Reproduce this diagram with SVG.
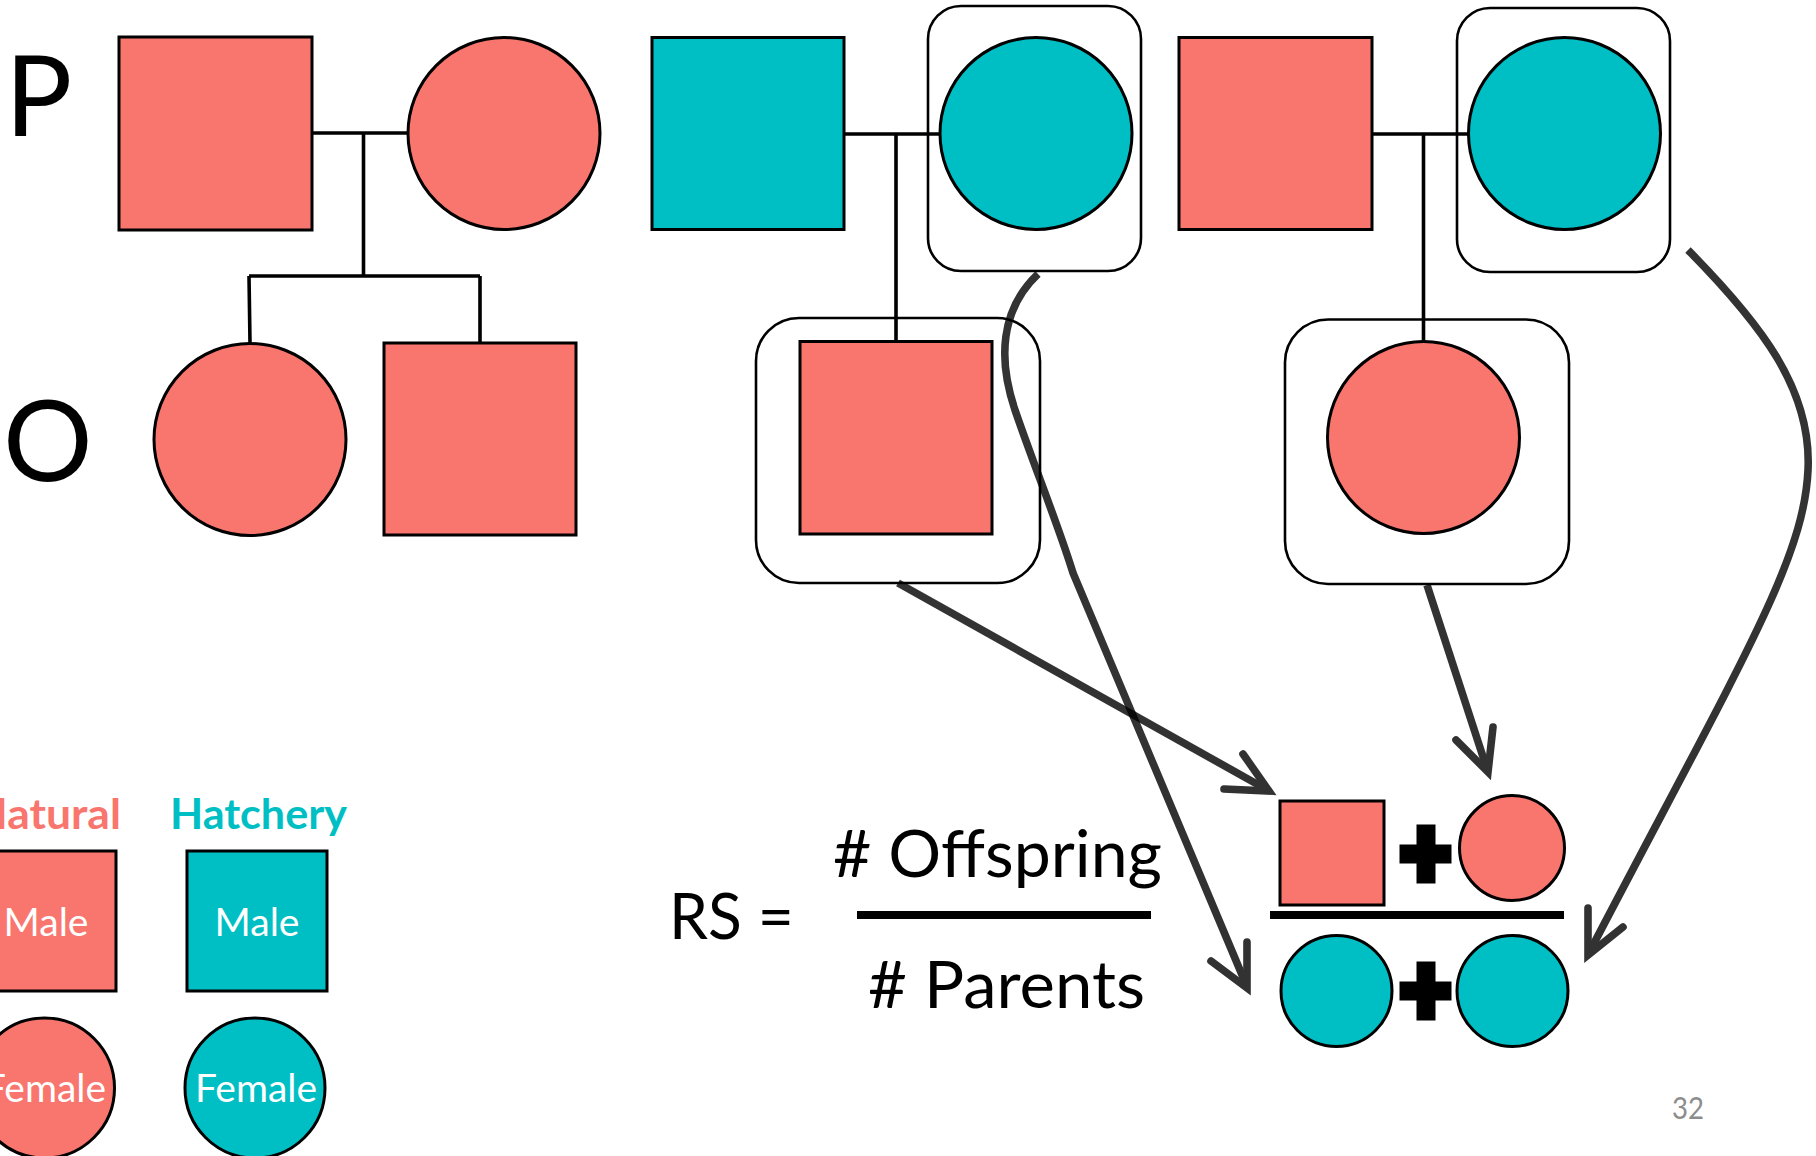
<svg xmlns="http://www.w3.org/2000/svg" width="1816" height="1156" viewBox="0 0 1816 1156">
<style>
.nat{fill:#F8766D;stroke:#000;stroke-width:3}
.hat{fill:#00BFC4;stroke:#000;stroke-width:3}
.box{fill:none;stroke:#000;stroke-width:2.6}
.ped{fill:none;stroke:#000;stroke-width:3.6}
.arr{fill:none;stroke:#000;stroke-width:7.6;stroke-linecap:butt}
.head{fill:none;stroke:#000;stroke-width:7.6;stroke-linecap:round;stroke-linejoin:miter;stroke-miterlimit:10}
.t{font-family:Lato,'Open Sans','Liberation Sans',sans-serif;fill:#000}
.lbl{font-family:Lato,'Open Sans','Liberation Sans',sans-serif;fill:#fff;font-size:38px;text-anchor:middle}
.plus{fill:#000}
</style>
<rect width="1816" height="1156" fill="#fff"/>

<g id="generation-labels">
<text class="t" x="5" y="136" font-size="112">P</text>
<text class="t" x="3" y="481" font-size="112">O</text>
</g>

<g id="connectors">
<path class="ped" d="M312,133 H407 M363.5,133 V276 M249,276 H480 M249,276 L250,343 M480,276 V343"/>
<path class="ped" d="M844,134 H940 M896,134 V341"/>
<path class="ped" d="M1372,134 H1468 M1423.5,134 V342"/>
<g id="arrow-offspring-male" opacity="0.8">
<path class="arr" d="M898,583 L1264,788"/>
<polyline class="head" points="1243,754 1269,791 1224,789"/>
</g>
<g id="arrow-hatchery-female-1" opacity="0.8">
<path class="arr" d="M1038,274 C1000,310 998,360 1015,410 C1032,460 1060,530 1073,573 L1245,982"/>
<polyline class="head" points="1247,942 1247,988 1211,961"/>
</g>
<g id="arrow-offspring-female" opacity="0.8">
<path class="arr" d="M1427,585 L1486,766"/>
<polyline class="head" points="1493,727 1488,772 1456,740"/>
</g>
<g id="arrow-hatchery-female-2" opacity="0.8">
<path class="arr" d="M1688,250 C1762,325 1812,390 1808,470 C1804,560 1742,660 1591,949"/>
<polyline class="head" points="1588,908 1588,955 1623,927"/>
</g>
</g>

<g id="nat-male-p1"><rect class="nat" x="119" y="37" width="193" height="193"/></g>
<g id="nat-female-p1"><circle class="nat" cx="504" cy="133.5" r="96"/></g>
<g id="nat-female-o1"><circle class="nat" cx="250" cy="439.5" r="96"/></g>
<g id="nat-male-o1"><rect class="nat" x="384" y="343" width="192" height="192"/></g>

<g id="hat-male-p2"><rect class="hat" x="652" y="37.5" width="192" height="192"/></g>
<g id="hat-female-p2">
<rect class="box" x="928" y="6" width="213" height="265" rx="33"/>
<circle class="hat" cx="1036" cy="133.5" r="96"/>
</g>
<g id="nat-male-o2">
<rect class="box" x="756" y="318" width="284" height="265" rx="43"/>
<rect class="nat" x="800" y="341.5" width="192" height="192.5"/>
</g>

<g id="nat-male-p3"><rect class="nat" x="1179" y="37.5" width="193" height="192"/></g>
<g id="hat-female-p3">
<rect class="box" x="1457" y="8" width="213" height="264" rx="33"/>
<circle class="hat" cx="1564.5" cy="133.5" r="96"/>
</g>
<g id="nat-female-o3">
<rect class="box" x="1285" y="319.5" width="284" height="264.5" rx="43"/>
<circle class="nat" cx="1423.5" cy="437.5" r="96"/>
</g>

<g id="formula">
<text class="t" x="669" y="938.5" font-size="63" textLength="125" lengthAdjust="spacingAndGlyphs">RS =</text>
<text class="t" x="833" y="876.5" font-size="65" textLength="329" lengthAdjust="spacingAndGlyphs"># Offspring</text>
<rect x="857" y="911" width="294" height="8" fill="#000"/>
<text class="t" x="868" y="1008.3" font-size="65" textLength="277" lengthAdjust="spacingAndGlyphs"># Parents</text>
</g>

<g id="formula-symbols">
<rect class="nat" x="1280" y="801" width="104" height="104"/>
<path class="plus" d="M1416.5,824.5 h19 v20 h16 v19 h-16 v20 h-19 v-20 h-17 v-19 h17 z"/>
<circle class="nat" cx="1512" cy="848" r="52.5"/>
<rect x="1270" y="911" width="294" height="8" fill="#000"/>
<circle class="hat" cx="1336.5" cy="991" r="55.5"/>
<path class="plus" d="M1416.5,961.5 h19 v20 h16 v19 h-16 v20 h-19 v-20 h-17 v-19 h17 z"/>
<circle class="hat" cx="1512.5" cy="991" r="55.5"/>
</g>

<g id="legend">
<text class="t" x="-26.5" y="829" font-size="42" font-weight="bold" style="fill:#F8766D" textLength="147.5" lengthAdjust="spacingAndGlyphs">Natural</text>
<text class="t" x="170" y="829" font-size="42" font-weight="bold" style="fill:#00BFC4" textLength="177" lengthAdjust="spacingAndGlyphs">Hatchery</text>
<g id="legend-nat-male">
<rect class="nat" x="-24" y="851" width="140" height="140"/>
<text class="lbl" x="46" y="935.7" textLength="85" lengthAdjust="spacingAndGlyphs">Male</text>
</g>
<g id="legend-hat-male">
<rect class="hat" x="187" y="851" width="140" height="140"/>
<text class="lbl" x="257" y="935.7" textLength="85" lengthAdjust="spacingAndGlyphs">Male</text>
</g>
<g id="legend-nat-female">
<circle class="nat" cx="44.5" cy="1088" r="70"/>
<text class="lbl" x="45" y="1102.3" textLength="122" lengthAdjust="spacingAndGlyphs">Female</text>
</g>
<g id="legend-hat-female">
<circle class="hat" cx="255" cy="1088" r="70"/>
<text class="lbl" x="256" y="1102.3" textLength="122" lengthAdjust="spacingAndGlyphs">Female</text>
</g>
</g>

<text class="t" x="1672" y="1119" font-size="31" style="fill:#8C8C8C" textLength="32" lengthAdjust="spacingAndGlyphs">32</text>
</svg>
